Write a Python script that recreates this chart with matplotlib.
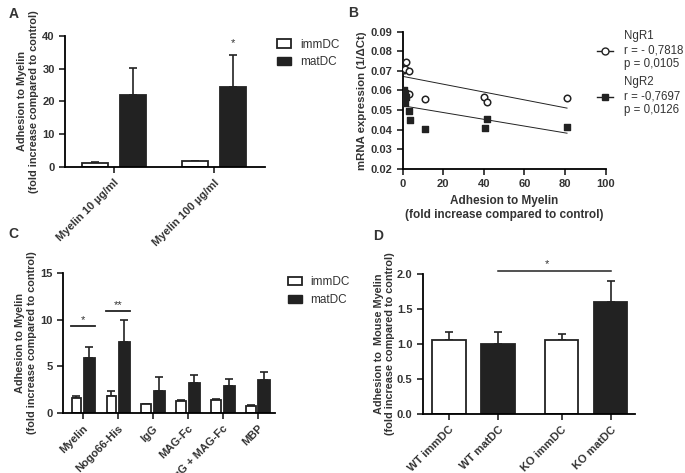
import numpy as np
import matplotlib
matplotlib.use('Agg')
import matplotlib.pyplot as plt
from matplotlib.patches import Patch
from matplotlib.lines import Line2D

plt.rcParams['font.family'] = ['Liberation Sans', 'DejaVu Sans']
plt.rcParams['font.size'] = 8

# Panel A data
a_labels = ['Myelin 10 µg/ml', 'Myelin 100 µg/ml']
a_imm = [1.3, 1.8]
a_imm_err = [0.15, 0.15]
a_mat = [22.0, 24.3]
a_mat_err = [8.1, 9.9]

# Panel B data
b_ngr1_x = [0.5, 1.5, 1.2, 3.0, 3.3, 11.2, 40.0, 41.7, 81.1]
b_ngr1_y = [0.0703, 0.0747, 0.0709, 0.0697, 0.0580, 0.0556, 0.0566, 0.0542, 0.0561]
b_ngr2_x = [0.6, 1.0, 1.4, 0.8, 1.2, 3.0, 3.4, 11.2, 40.4, 41.7, 81.1]
b_ngr2_y = [0.0600, 0.0585, 0.0565, 0.0550, 0.0535, 0.0496, 0.0450, 0.0403, 0.0406, 0.0457, 0.0415]
b_fit_x = [0, 81]
b_fit1_y = [0.0672, 0.0510]
b_fit2_y = [0.0522, 0.0382]

# Panel C data
c_labels = ['Myelin', 'Nogo66-His', 'IgG', 'MAG-Fc', 'IgG + MAG-Fc', 'MBP']
c_imm = [1.57, 1.82, 0.96, 1.32, 1.39, 0.75]
c_imm_err = [0.27, 0.57, 0.05, 0.05, 0.12, 0.05]
c_mat = [5.93, 7.6, 2.36, 3.25, 2.9, 3.5]
c_mat_err = [1.17, 2.4, 1.44, 0.85, 0.78, 0.9]

# Panel D data
d_labels = ['WT immDC', 'WT matDC', 'KO immDC', 'KO matDC']
d_vals = [1.057, 1.0, 1.057, 1.595]
d_err = [0.11, 0.167, 0.083, 0.31]
d_colors = ['white', '#222222', 'white', '#222222']

dark = '#222222'
txt = '#333333'
ylab = 'Adhesion to Myelin\n(fold increase compared to control)'

fig = plt.figure(figsize=(6.85, 4.73), dpi=100)


def prism(ax):
    ax.spines['top'].set_visible(False)
    ax.spines['right'].set_visible(False)
    ax.spines['left'].set_linewidth(1.3)
    ax.spines['bottom'].set_linewidth(1.3)
    ax.tick_params(width=1.3, length=4, labelsize=8, colors=txt)
    for t in ax.get_xticklabels() + ax.get_yticklabels():
        t.set_fontweight('bold')


def bars(ax, x, vals, errs, color, width):
    ax.bar(x, vals, width, color=color, edgecolor=dark, linewidth=1.3, zorder=2)
    ax.errorbar(x, vals, yerr=[np.zeros(len(vals)), errs], fmt='none',
                ecolor=dark, elinewidth=1.2, capsize=3, capthick=1.2, zorder=1)


def bar_legend(ax, x, y):
    ax.legend(handles=[Patch(facecolor='white', edgecolor=dark, linewidth=1.3, label='immDC'),
                       Patch(facecolor=dark, edgecolor=dark, label='matDC')],
              loc='upper left', bbox_to_anchor=(x, y), frameon=False, borderpad=0,
              borderaxespad=0, fontsize=8.5, handlelength=1.2, handleheight=0.7,
              handletextpad=0.75, labelspacing=0.5, labelcolor=txt)


# A
axA = fig.add_axes([0.095, 0.647, 0.292, 0.277])
xa = np.arange(len(a_labels))
bars(axA, xa - 0.19, a_imm, a_imm_err, 'white', 0.26)
bars(axA, xa + 0.19, a_mat, a_mat_err, dark, 0.26)
axA.set_xlim(-0.49, 1.51)
axA.set_ylim(0, 40)
axA.set_yticks([0, 10, 20, 30, 40])
axA.set_xticks(xa)
axA.set_xticklabels(a_labels, rotation=45, ha='right', rotation_mode='anchor')
axA.set_ylabel(ylab, fontweight='bold', fontsize=7.8, color=txt)
axA.yaxis.set_label_coords(-0.13, 0.5)
axA.text(1.19, 37.0, '*', ha='center', fontsize=8, color=txt)
prism(axA)
bar_legend(axA, 1.06, 0.98)

# B
axB = fig.add_axes([0.588, 0.643, 0.296, 0.290])
axB.plot(b_fit_x, b_fit1_y, color=dark, linewidth=0.7)
axB.plot(b_fit_x, b_fit2_y, color=dark, linewidth=0.7)
axB.scatter(b_ngr1_x, b_ngr1_y, s=22, facecolor='white', edgecolor=dark, linewidth=1.1, zorder=3)
axB.scatter(b_ngr2_x, b_ngr2_y, s=20, marker='s', color=dark, zorder=3)
axB.set_xlim(0, 100)
axB.set_ylim(0.02, 0.09)
axB.set_xticks([0, 20, 40, 60, 80, 100])
axB.set_yticks(np.arange(0.02, 0.091, 0.01))
axB.yaxis.set_major_formatter(matplotlib.ticker.FormatStrFormatter('%.2f'))
axB.set_xlabel('Adhesion to Myelin\n(fold increase compared to control)',
               fontweight='bold', fontsize=8.5, color=txt)
axB.set_ylabel('mRNA expression (1/ΔCt)', fontweight='bold', fontsize=8.2, color=txt)
axB.yaxis.set_label_coords(-0.177, 0.5)
prism(axB)
h1 = Line2D([], [], color=dark, marker='o', markerfacecolor='white', markersize=5, linewidth=1)
h2 = Line2D([], [], color=dark, marker='s', markersize=4.5, linewidth=1)
axB.legend([h1, h2], ['NgR1\nr = - 0,7818\np = 0,0105', 'NgR2\nr = -0,7697\np = 0,0126'],
           loc='upper left', bbox_to_anchor=(0.956, 1.01), frameon=False, fontsize=8.3,
           borderpad=0, borderaxespad=0, handlelength=1.4, handletextpad=1.0,
           labelspacing=0.55, labelcolor=txt)

# C
axC = fig.add_axes([0.092, 0.127, 0.309, 0.296])
xc = np.arange(len(c_labels))
bars(axC, xc - 0.185, c_imm, c_imm_err, 'white', 0.28)
bars(axC, xc + 0.185, c_mat, c_mat_err, dark, 0.32)
axC.set_xlim(-0.57, 5.49)
axC.set_ylim(0, 15)
axC.set_yticks([0, 5, 10, 15])
axC.set_xticks(xc)
axC.set_xticklabels(c_labels, rotation=45, ha='right', rotation_mode='anchor')
axC.set_ylabel(ylab, fontweight='bold', fontsize=7.8, color=txt)
axC.yaxis.set_label_coords(-0.123, 0.5)
axC.plot([-0.35, 0.35], [9.36, 9.36], color=dark, linewidth=1.3)
axC.text(0, 9.6, '*', ha='center', fontsize=8, color=txt)
axC.plot([0.65, 1.35], [10.96, 10.96], color=dark, linewidth=1.3)
axC.text(1, 11.2, '**', ha='center', fontsize=8, color=txt)
prism(axC)
bar_legend(axC, 1.061, 0.975)

# D
axD = fig.add_axes([0.6175, 0.125, 0.3095, 0.296])
xd = np.array([0, 1, 2.3, 3.3])
bars(axD, xd, d_vals, d_err, d_colors, 0.69)
axD.set_xlim(-0.53, 3.8)
axD.set_ylim(0, 2.0)
axD.set_yticks([0, 0.5, 1.0, 1.5, 2.0])
axD.yaxis.set_major_formatter(matplotlib.ticker.FormatStrFormatter('%.1f'))
axD.set_xticks(xd)
axD.set_xticklabels(d_labels, rotation=45, ha='right', rotation_mode='anchor')
axD.set_ylabel('Adhesion to  Mouse Myelin\n(fold increase compared to control)',
               fontweight='bold', fontsize=7.8, color=txt)
axD.yaxis.set_label_coords(-0.13, 0.5)
axD.plot([1, 3.3], [2.047, 2.047], color=dark, linewidth=1.1, clip_on=False)
axD.text(2.0, 2.09, '*', ha='center', fontsize=8, color=txt)
prism(axD)

# panel letters
for lab, x, y in [('A', 0.012, 0.962), ('B', 0.508, 0.964), ('C', 0.012, 0.497), ('D', 0.545, 0.493)]:
    fig.text(x, y, lab, fontsize=10, fontweight='bold', color=txt)

fig.savefig('out.png', dpi=100)
